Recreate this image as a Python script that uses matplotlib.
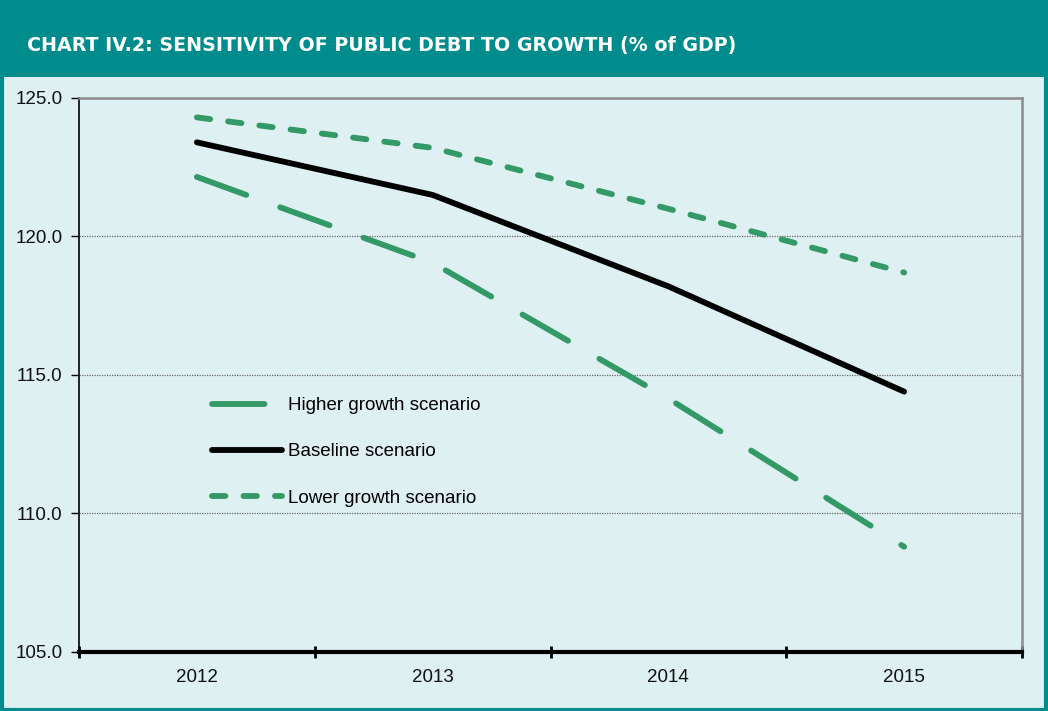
import matplotlib.pyplot as plt
from matplotlib.patches import Rectangle

years = ['2012', '2013', '2014', '2015']
higher_growth = [122.15, 119.05, 114.15, 108.8]
baseline = [123.4, 121.5, 118.2, 114.4]
lower_growth = [124.3, 123.2, 121.0, 118.7]
y_ticks = [105.0, 110.0, 115.0, 120.0, 125.0]

TEAL = '#008c8c'
GREEN = '#339966'
BG = '#dff0f2'

plt.rcParams['font.family'] = ['Liberation Sans', 'DejaVu Sans']

fig = plt.figure(figsize=(10.48, 7.11), dpi=100, facecolor=BG)

# header band, frame and title
fig.patches.append(Rectangle((0, 1 - 77 / 711), 1, 77 / 711, transform=fig.transFigure,
                             facecolor=TEAL, edgecolor='none', zorder=0))
fig.patches.append(Rectangle((0.0015, 0.002), 0.997, 0.996, transform=fig.transFigure,
                             facecolor='none', edgecolor=TEAL, linewidth=3, zorder=5))
fig.text(27 / 1048, 1 - 45 / 711, 'CHART IV.2: SENSITIVITY OF PUBLIC DEBT TO GROWTH (% of GDP)',
         color='white', fontsize=13.7, fontweight='bold', family=['DejaVu Sans'],
         va='center', ha='left')

ax = fig.add_axes([79 / 1048, 1 - 652 / 711, (1022 - 79) / 1048, (652 - 98) / 711])
ax.set_facecolor(BG)

x = range(len(years))
ax.plot(x, higher_growth, color=GREEN, lw=4.2, dashes=(9.0, 6.2), dash_capstyle='round',
        solid_capstyle='round', label='Higher growth scenario', zorder=3)
ax.plot(x, baseline, color='black', lw=4.2, solid_capstyle='round',
        label='Baseline scenario', zorder=3)
ax.plot(x, lower_growth, color=GREEN, lw=4.2, dashes=(2.3, 3.1), dash_capstyle='round',
        label='Lower growth scenario', zorder=3)

ax.set_xlim(-0.5, 3.5)
ax.set_ylim(105, 125)

ax.set_yticks(y_ticks)
ax.set_yticklabels([f'{v:.1f}' for v in y_ticks])
for v in y_ticks[1:-1]:
    ax.axhline(v, color='#6a6a6a', lw=0.9, linestyle=(0, (1, 1)), zorder=1)

# category boundaries carry the tick marks, labels sit between them
ax.set_xticks([-0.5, 0.5, 1.5, 2.5, 3.5])
ax.set_xticklabels([])
ax.set_xticks(list(x), minor=True)
ax.set_xticklabels(years, minor=True)
ax.tick_params(axis='x', which='major', direction='inout', length=9, width=2, color='black')
ax.tick_params(axis='x', which='minor', length=0, pad=12, labelsize=13.5, labelcolor='#111111')
ax.tick_params(axis='y', direction='out', length=6, width=1, pad=6, labelsize=13.5,
               labelcolor='#111111')

for side in ('top', 'right'):
    ax.spines[side].set_color('#8a8a8a')
    ax.spines[side].set_linewidth(1.8)
ax.spines['left'].set_color('black')
ax.spines['left'].set_linewidth(1.2)
ax.spines['bottom'].set_color('black')
ax.spines['bottom'].set_linewidth(3)

ax.legend(loc='upper left', bbox_to_anchor=(0.141, 0.46), frameon=False, borderpad=0,
          borderaxespad=0, handlelength=3.75, handletextpad=0.3, labelspacing=1.55,
          fontsize=13.5)

fig.savefig('out.png', dpi=100, facecolor=BG)
